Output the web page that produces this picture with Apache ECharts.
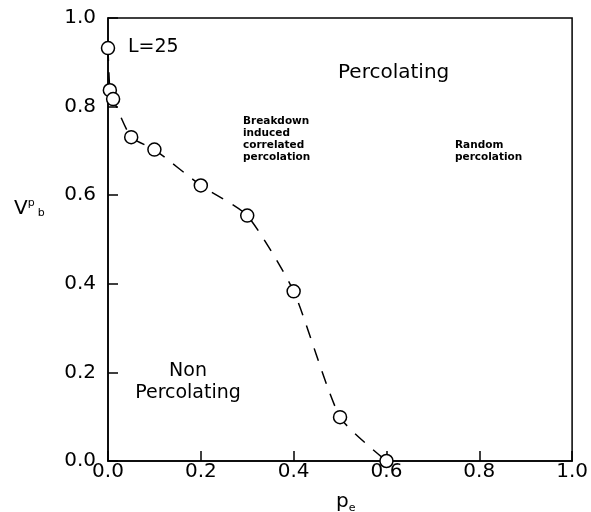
<!DOCTYPE html>
<html>
<head>
<meta charset="utf-8">
<script src="https://cdn.jsdelivr.net/npm/echarts@6/dist/echarts.min.js"></script>
<style>
html,body{margin:0;padding:0;background:#fff;}
#c{width:591px;height:512px;}
</style>
</head>
<body>
<div id="c"></div>
<script>
// Data
var pe = [0, 0.004, 0.011, 0.05, 0.1, 0.2, 0.3, 0.4, 0.5, 0.6];
var vpb = [0.932, 0.837, 0.817, 0.731, 0.703, 0.622, 0.554, 0.383, 0.099, 0.0];
var xTicks = ['0.0', '0.2', '0.4', '0.6', '0.8', '1.0'];
var yTicks = ['0.0', '0.2', '0.4', '0.6', '0.8', '1.0'];

var points = pe.map(function (x, i) { return [x, vpb[i]]; });
var FONT = 'DejaVu Sans';

var chart = echarts.init(document.getElementById('c'), null, {renderer: 'canvas'});
chart.setOption({
  backgroundColor: '#fff',
  animation: false,
  grid: {left: 108, right: 15, top: 18, bottom: 51, show: true, borderColor: '#000', borderWidth: 1.5, backgroundColor: 'transparent'},
  xAxis: {
    type: 'value', min: 0, max: 1, interval: 0.2,
    axisLine: {show: true, lineStyle: {color: '#000', width: 1.5}},
    axisTick: {show: true, inside: true, length: 10, lineStyle: {color: '#000', width: 1.5}},
    splitLine: {show: false},
    axisLabel: {color: '#000', fontFamily: FONT, fontSize: 20, margin: 1,
      showMinLabel: true, showMaxLabel: true,
      formatter: function (v) { return xTicks[Math.round(v / 0.2)]; }}
  },
  yAxis: {
    type: 'value', min: 0, max: 1, interval: 0.2,
    axisLine: {show: true, lineStyle: {color: '#000', width: 1.5}},
    axisTick: {show: true, inside: true, length: 10, lineStyle: {color: '#000', width: 1.5}},
    splitLine: {show: false},
    axisLabel: {color: '#000', fontFamily: FONT, fontSize: 20, margin: 12,
      showMinLabel: true, showMaxLabel: true,
      formatter: function (v) { return yTicks[Math.round(v / 0.2)]; }}
  },
  series: [{
    type: 'line',
    data: points,
    smooth: 0.2,
    symbol: 'circle',
    symbolSize: 13,
    itemStyle: {color: '#fff', borderColor: '#000', borderWidth: 1.5},
    lineStyle: {color: '#000', width: 1.5, type: [13, 11]},
    z: 3
  }],
  graphic: [
    {type: 'text', x: 128, y: 38, style: {text: 'L=25', fontFamily: FONT, fontSize: 19, fill: '#000'}},
    {type: 'text', x: 338, y: 63, style: {text: 'Percolating', fontFamily: FONT, fontSize: 20, fill: '#000'}},
    {type: 'text', x: 243, y: 115, style: {text: 'Breakdown\ninduced\ncorrelated\npercolation', fontFamily: FONT, fontWeight: 'bold', fontSize: 10.5, lineHeight: 12, fill: '#000'}},
    {type: 'text', x: 455, y: 139, style: {text: 'Random\npercolation', fontFamily: FONT, fontWeight: 'bold', fontSize: 10.5, lineHeight: 12, fill: '#000'}},
    {type: 'text', x: 188, y: 360, style: {text: 'Non\nPercolating', fontFamily: FONT, fontSize: 19, lineHeight: 22, align: 'center', fill: '#000'}},
    {type: 'text', x: 336, y: 489, style: {text: '{m|p}{s|e}', fontFamily: FONT, fill: '#000',
      rich: {m: {fontSize: 20, fontFamily: FONT, fill: '#000'}, s: {fontSize: 11, fontFamily: FONT, padding: [14, 0, 0, 0], fill: '#000'}}}},
    {type: 'text', x: 14, y: 198, style: {text: '{m|V}{p|p}{s|b}', fontFamily: FONT, fill: '#000',
      rich: {m: {fontSize: 20, fontFamily: FONT, fill: '#000'}, p: {fontSize: 11, fontFamily: FONT, padding: [0, 0, 10, 0], fill: '#000'}, s: {fontSize: 11, fontFamily: FONT, padding: [10, 0, 0, 3], fill: '#000'}}}}
  ]
});
</script>
</body>
</html>
